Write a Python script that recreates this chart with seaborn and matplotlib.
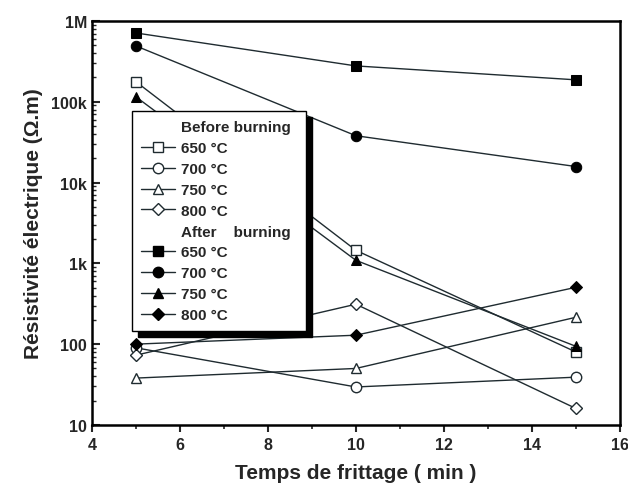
import numpy as np
import pandas as pd
import matplotlib
matplotlib.use("Agg")
import matplotlib.pyplot as plt
import matplotlib.ticker as mticker
from matplotlib.lines import Line2D
import seaborn as sns

# sintering time (min)
temps = [5, 10, 15]

# resistivity (Ohm.m) before burning
before_650 = [177000, 1450, 80]
before_700 = [90, 29.5, 39]
before_750 = [38, 50, 215]
before_800 = [73, 312, 16]

# resistivity (Ohm.m) after burning
after_650 = [711000, 278000, 187000]
after_700 = [491000, 38000, 15800]
after_750 = [115000, 1090, 94]
after_800 = [100, 129, 505]

labels = ["650 °C", "700 °C", "750 °C", "800 °C"]
markers = ["s", "o", "^", "D"]
before = [before_650, before_700, before_750, before_800]
after = [after_650, after_700, after_750, after_800]

sns.set_theme(style="ticks")
plt.rcParams["font.family"] = ["Liberation Sans", "DejaVu Sans"]
plt.rcParams["font.weight"] = "bold"

fig = plt.figure(figsize=(6.28, 4.89), dpi=100)
ax = fig.add_axes([0.1465, 0.129, 0.8405, 0.826])

line_col = "#1f2b30"
msizes = {"s": 6.5, "o": 7.5, "^": 7.5, "D": 6.5}

for vals, lab, m in zip(before, labels, markers):
    sns.lineplot(x=temps, y=vals, ax=ax, color=line_col, lw=1.0, marker=m,
                 markersize=msizes[m], markerfacecolor="white",
                 markeredgecolor=line_col, markeredgewidth=1.0, legend=False)
for vals, lab, m in zip(after, labels, markers):
    sns.lineplot(x=temps, y=vals, ax=ax, color=line_col, lw=1.0, marker=m,
                 markersize=msizes[m], markerfacecolor="black",
                 markeredgecolor="black", legend=False)

ax.set_yscale("log")
ax.set_xlim(4, 16)
ax.set_ylim(10, 1e6)
ax.xaxis.set_major_locator(mticker.MultipleLocator(2))
ax.xaxis.set_minor_locator(mticker.MultipleLocator(1))
ax.yaxis.set_major_locator(mticker.LogLocator(base=10))
ax.yaxis.set_minor_locator(mticker.LogLocator(base=10, subs=np.arange(2, 10)))
ax.yaxis.set_minor_formatter(mticker.NullFormatter())
ytick_labels = {10: "10", 100: "100", 1000: "1k", 10000: "10k", 100000: "100k", 1000000: "1M"}
ax.yaxis.set_major_formatter(mticker.FuncFormatter(lambda v, p: ytick_labels.get(int(round(v)), "")))

ax.tick_params(axis="x", which="major", direction="out", length=5, width=1.5, labelsize=11.5)
ax.tick_params(axis="x", which="minor", direction="out", length=3, width=1.2)
ax.tick_params(axis="y", which="major", direction="in", length=6, width=1.5, labelsize=11.5)
ax.tick_params(axis="y", which="minor", direction="in", length=3, width=1.0)
for s in ax.spines.values():
    s.set_linewidth(1.8)
    s.set_color("black")
    s.set_visible(True)

ax.set_xlabel("Temps de frittage ( min )", fontsize=15, fontweight="bold", labelpad=8)
ax.set_ylabel("Résistivité électrique (Ω.m)", fontsize=15, fontweight="bold", labelpad=6)

# legend with section headers
handles, hlabels = [], []
blank = Line2D([], [], linestyle="none")
handles.append(blank)
hlabels.append("Before burning")
for lab, m in zip(labels, markers):
    handles.append(Line2D([], [], color=line_col, lw=1.0, marker=m, markersize=msizes[m],
                          markerfacecolor="white", markeredgecolor=line_col))
    hlabels.append(lab)
handles.append(blank)
hlabels.append("After    burning")
for lab, m in zip(labels, markers):
    handles.append(Line2D([], [], color=line_col, lw=1.0, marker=m, markersize=msizes[m],
                          markerfacecolor="black", markeredgecolor="black"))
    hlabels.append(lab)

leg = ax.legend(handles, hlabels, loc="upper left", bbox_to_anchor=(0.076, 0.0, 0.33, 0.777),
                mode="expand", borderaxespad=0, fancybox=False, framealpha=1,
                edgecolor="black", fontsize=11, handlelength=2.2, labelspacing=0.45,
                borderpad=0.6, handletextpad=0.4,
                shadow={"ox": 4, "oy": -4, "color": "black", "alpha": 1})
leg.get_frame().set_linewidth(1.0)
for t in leg.get_texts():
    t.set_fontweight("bold")

fig.savefig("out.png", dpi=100)
